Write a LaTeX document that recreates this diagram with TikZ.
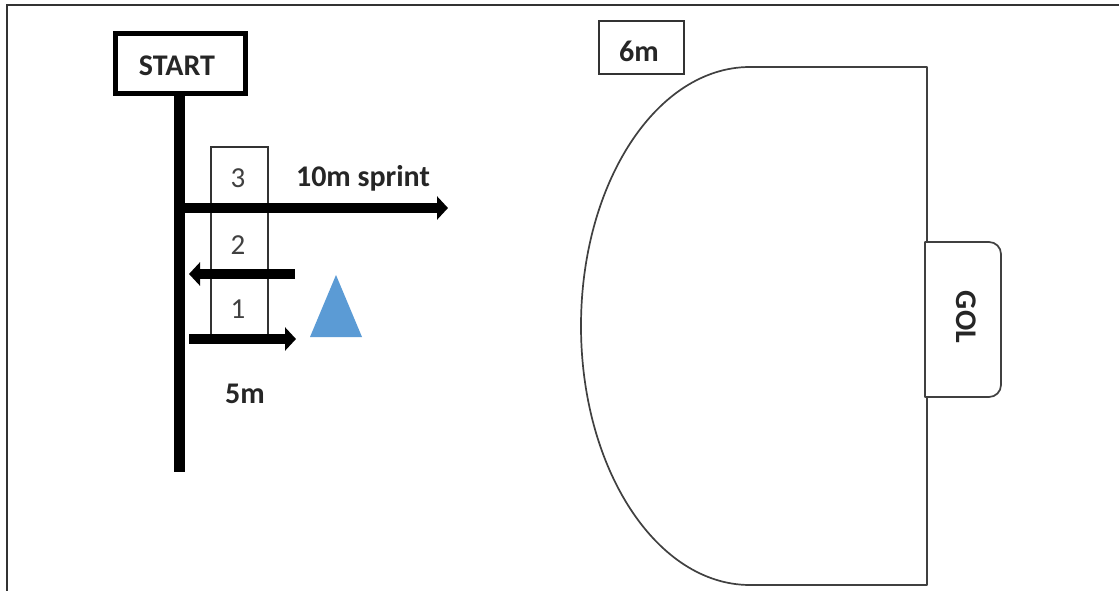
\documentclass[tikz,border=0pt]{standalone}
\usepackage{fontspec}
\setmainfont{Carlito}
\usetikzlibrary{arrows.meta}
\definecolor{conefill}{RGB}{91,155,213}
\tikzset{
  every node/.style={inner sep=0pt},
  lbl/.style={font=\fontsize{30}{32}\selectfont\bfseries, text=black!85},
  num/.style={font=\fontsize{29}{32}\selectfont, text=black!75},
  thin box/.style={draw=black!80, line width=1.6pt},
  heavy/.style={line width=10.5pt, draw=black},
  heavy arrow/.style={heavy, -{Triangle[length=11pt,width=23pt]}},
  outline/.style={draw=black!75, line width=1.7pt, line join=round},
}
\begin{document}
\begin{tikzpicture}[x=1pt,y=-1pt]
\useasboundingbox (0,0) rectangle (1119,591);
\fill[white] (0,0) rectangle (1119,591);
% page border
\draw[black!80, line width=1.4pt] (7,591) -- (7,5) -- (1119,5);
% numbered cells
\node[thin box, minimum width=57pt, minimum height=191pt, anchor=north west] (cells) at (210,146) {};
% main bar and arrows
\coordinate (barend) at (179.5,472);
\coordinate (sprintfrom) at (179.5,208);
\coordinate (sprintto) at (448,208);
\coordinate (backfrom) at (295,274);
\coordinate (backto) at (189,274);
\coordinate (outfrom) at (189,339);
\coordinate (outto) at (296,339);
\node[draw=black, line width=5pt, minimum width=130pt, minimum height=60pt, fill=white] (start) at (180.5,63.5) {};
\node[lbl] (starttext) at (177,66) {START};
\draw[heavy] (start.south -| barend) -- (barend);
\draw[heavy arrow] (sprintfrom) -- (sprintto);
\draw[heavy arrow] (backfrom) -- (backto);
\draw[heavy arrow] (outfrom) -- (outto);
\node[num] (n3) at (238,178) {3};
\node[num] (n2) at (238,245) {2};
\node[num] (n1) at (238,309) {1};
\node[lbl] (sprint) at (363,178) {10m sprint};
\node[lbl] (five) at (245,394) {5m};
% cone
\fill[conefill] (336,275) -- (362,337) -- (310,337) -- cycle;
% 6m label
\node[thin box, minimum width=85pt, minimum height=53pt] (six) at (641.5,47.5) {};
\node[lbl] (sixtext) at (639,51) {6m};
% area
\draw[outline] (927,242) -- (927,67) -- (750,67) arc[start angle=270, end angle=90, x radius=169, y radius=259] -- (927,585) -- (927,397);
% goal
\draw[outline, fill=white] (925,242) -- (989,242) arc[start angle=270, end angle=360, radius=12] -- (1001,385) arc[start angle=0, end angle=90, radius=12] -- (925,397) -- cycle;
\node[lbl, rotate=-90] (gol) at (966,317) {GOL};
\end{tikzpicture}
\end{document}
